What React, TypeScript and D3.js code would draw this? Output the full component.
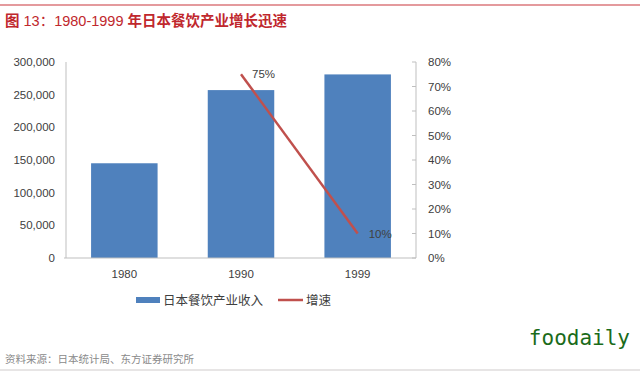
import React from "react";
import * as d3 from "d3";

const categories = ["1980", "1990", "1999"];
const revenue = [145000, 257000, 281000];
const growthYears = ["1990", "1999"];
const growth = [0.75, 0.10];
const growthLabels = ["75%", "10%"];
const leftTicks = [0, 50000, 100000, 150000, 200000, 250000, 300000];
const rightTicks = [0, 0.1, 0.2, 0.3, 0.4, 0.5, 0.6, 0.7, 0.8];

const W = 640, H = 376;
const plot = { left: 66, right: 416, top: 62, bottom: 258 };
const font = "'Liberation Sans', Arial, 'Noto Sans CJK SC', sans-serif";
const cjk = "'Noto Sans CJK SC', sans-serif";

export default function App() {
  const x = d3.scaleBand().domain(categories).range([plot.left, plot.right]).paddingInner(0.43).paddingOuter(0.215);
  const xc = (c: string) => (x(c) as number) + x.bandwidth() / 2;
  const yL = d3.scaleLinear().domain([0, 300000]).range([plot.bottom, plot.top]);
  const yR = d3.scaleLinear().domain([0, 0.8]).range([plot.bottom, plot.top]);
  const fmt = d3.format(",");
  const pct = d3.format(".0%");
  const line = d3.line<number>().x((_, i) => xc(growthYears[i])).y((d) => yR(d));
  const axisColor = "#bfbfbf";
  const textColor = "#404040";
  return (
    <svg width={W} height={H} style={{ position: "absolute", left: 0, top: 0, background: "#fff" }}>
      <line x1={0} x2={W} y1={5} y2={5} stroke="#c9373c" strokeWidth={1.2} />
      <text x={5} y={26} fill="#c0272d" fontSize={14.5} fontFamily={cjk}>
        <tspan fontWeight="bold">图</tspan>
        <tspan fontFamily={font}> 13：1980-1999 </tspan>
        <tspan fontWeight="bold">年日本餐饮产业增长迅速</tspan>
      </text>
      {categories.map((c, i) => (
        <rect key={c} x={x(c)} y={yL(revenue[i])} width={x.bandwidth()} height={plot.bottom - yL(revenue[i])} fill="#4f81bd" />
      ))}
      <line x1={plot.left} x2={plot.left} y1={plot.top} y2={plot.bottom} stroke={axisColor} />
      <line x1={plot.left - 2} x2={plot.right} y1={plot.bottom} y2={plot.bottom} stroke={axisColor} />
      <line x1={plot.right} x2={plot.right} y1={plot.top} y2={plot.bottom} stroke={axisColor} />
      {leftTicks.map((t) => (
        <text key={t} x={55} y={yL(t) + 4} textAnchor="end" fontSize={11.5} fill={textColor} fontFamily={font}>{fmt(t)}</text>
      ))}
      {rightTicks.map((t) => (
        <g key={t}>
          <line x1={plot.right - 4} x2={plot.right} y1={yR(t)} y2={yR(t)} stroke={axisColor} />
          <text x={428} y={yR(t) + 4} fontSize={11.5} fill={textColor} fontFamily={font}>{pct(t)}</text>
        </g>
      ))}
      {categories.map((c) => (
        <text key={c} x={xc(c)} y={278} textAnchor="middle" fontSize={11.5} fill={textColor} fontFamily={font}>{c}</text>
      ))}
      <path d={line(growth) || ""} fill="none" stroke="#c0504d" strokeWidth={2.5} />
      {growth.map((g, i) => (
        <text key={i} x={xc(growthYears[i]) + 11} y={yR(g) + 4} fontSize={11.5} fill={textColor} fontFamily={font}>{growthLabels[i]}</text>
      ))}
      <rect x={136} y={297} width={24} height={6} fill="#4f81bd" />
      <text x={163} y={305} fontSize={12.5} fill={textColor} fontFamily={cjk}>日本餐饮产业收入</text>
      <line x1={278} x2={303} y1={300} y2={300} stroke="#c0504d" strokeWidth={2.5} />
      <text x={306} y={305} fontSize={12.5} fill={textColor} fontFamily={cjk}>增速</text>
      <text x={630} y={345} textAnchor="end" fontSize={21} fill="#1a6b1a" fontFamily="'DejaVu Sans Mono', 'Liberation Mono', monospace">foodaily</text>
      <text x={5} y={363} fontSize={10.5} fill="#8a8a8a" fontFamily={cjk}>资料来源：日本统计局、东方证券研究所</text>
      <line x1={0} x2={W} y1={370} y2={370} stroke="#d0cccc" strokeWidth={1.2} />
    </svg>
  );
}
